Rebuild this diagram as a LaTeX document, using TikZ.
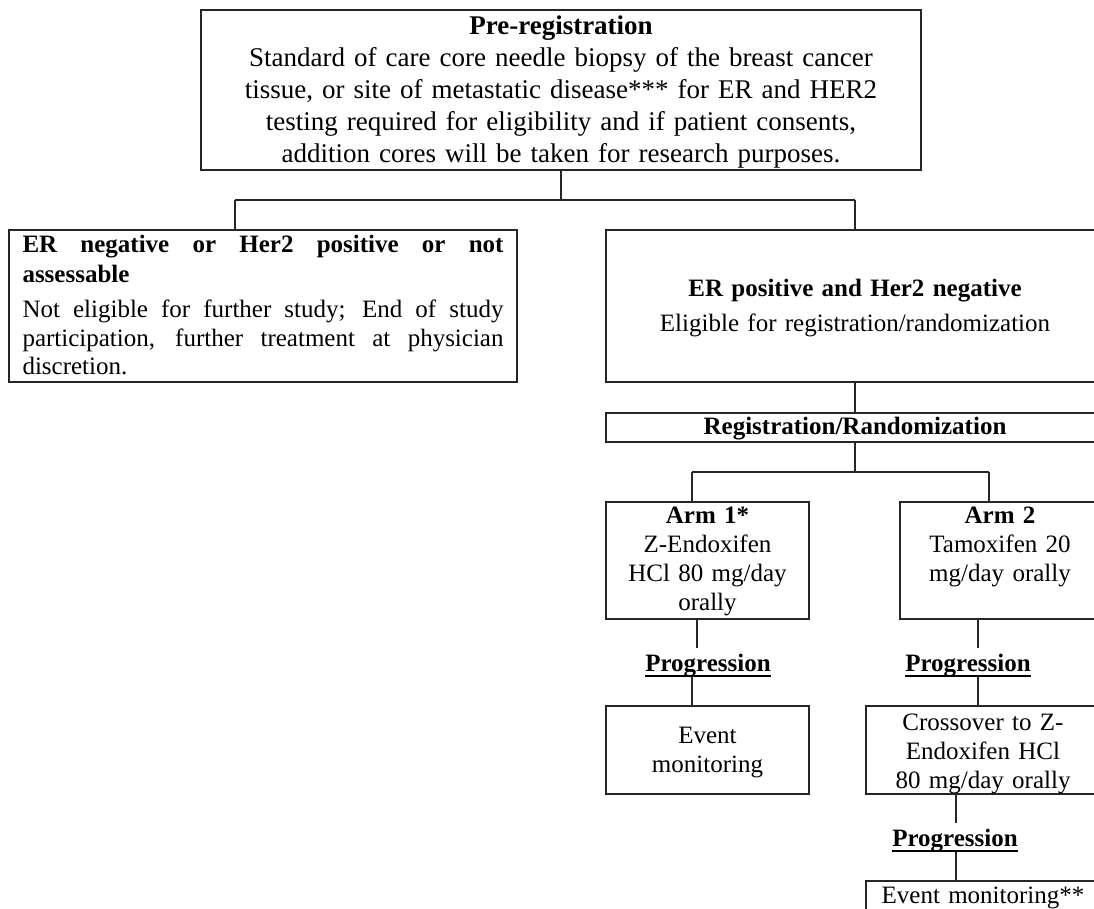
\documentclass[tikz,border=0pt]{standalone}
\usepackage{fontspec}
\setmainfont{Liberation Serif}
\newlength\ulwidth
\newcommand\ulword[1]{\settowidth\ulwidth{#1}\rlap{\rule[-5.5pt]{\ulwidth}{1.5pt}}#1}
\begin{document}
\begin{tikzpicture}[x=1pt,y=-1pt,
  line/.style={draw=black!85, line width=1.3pt},
  box/.style={draw=black!85, line width=1.3pt, inner sep=0pt, align=center,
    font=\fontsize{25}{29}\selectfont},
  sz/.style n args={3}{minimum width=#1, text width=#1, minimum height=#2,
    text height=#3, text depth={#2-#3}},
  prog/.style={inner sep=0pt, text height=23pt, text depth=6pt,
    font=\fontsize{25}{29}\selectfont\bfseries}]
\useasboundingbox (0,0) rectangle (1094,909);
\clip (0,0) rectangle (1094,909);
\fill[white] (0,0) rectangle (1094,909);

% boxes
\node[box, sz={720}{160}{25}, font=\fontsize{27}{32}\selectfont] (top) at (561,90)
  {\textbf{Pre-registration}\\Standard of care core needle biopsy of the breast cancer\\tissue, or site of metastatic disease*** for ER and HER2\\testing required for eligibility and if patient consents,\\addition cores will be taken for research purposes.};

\node[box, minimum width=508pt, minimum height=152pt, inner xsep=13.5pt, text width=481pt,
  text height=23pt, text depth=129pt, align=justify] (lb) at (263,306)
  {\hyphenpenalty=10000{\bfseries ER negative or Her2 positive or not\linebreak assessable}\\[6pt]Not eligible for further study; End of study\linebreak participation, further treatment at physician\linebreak discretion.\par};

\node[box, sz={498}{152}{66}] (rb) at (855,306)
  {\textbf{ER positive and Her2 negative}\\[6.5pt]Eligible for registration/randomization};

\node[box, sz={498}{29}{21}] (reg) at (855,427.5)
  {\textbf{Registration/Randomization}};

\node[box, sz={203}{117}{21}] (arm1) at (707.5,560.5)
  {\textbf{Arm 1*}\\Z-Endoxifen\\HCl 80 mg/day\\orally};
\node[box, sz={200}{117}{21}] (arm2) at (1000,560.5)
  {\textbf{Arm 2}\\Tamoxifen 20\\mg/day orally};

\node[prog, anchor=north] (p1) at (708,648) {\ulword{Progression}};
\node[prog, anchor=north] (p2) at (968,648) {\ulword{Progression}};

\node[box, sz={203}{88}{37}] (ev1) at (707.5,750)
  {Event\\monitoring};
\node[box, sz={234}{88}{24}] (cross) at (983,750)
  {Crossover to Z-\\Endoxifen HCl\\80 mg/day orally};

\node[prog, anchor=north] (p3) at (955,823) {\ulword{Progression}};

\node[box, sz={234}{31}{22}] (ev2) at (983,896.5)
  {Event monitoring**};

% junction coordinates
\coordinate (jt) at (561,200);
\coordinate (jl) at (235,200);
\coordinate (jr) at (855,200);
\coordinate (ja) at (855,472);
\coordinate (ja1) at (692,472);
\coordinate (ja2) at (989,472);
\coordinate (c697) at (697,0);
\coordinate (c692) at (692,0);
\coordinate (c978) at (978,0);
\coordinate (c956) at (956,0);

% connectors
\draw[line] (top.south) -- (jt);
\draw[line] (jl) -- (jr);
\draw[line] (jl) -- (jl |- lb.north);
\draw[line] (jr) -- (rb.north);
\draw[line] (rb.south) -- (reg.north);
\draw[line] (reg.south) -- (ja);
\draw[line] (ja1) -- (ja2);
\draw[line] (ja1) -- (ja1 |- arm1.north);
\draw[line] (ja2) -- (ja2 |- arm2.north);
\draw[line] (c697 |- arm1.south) -- (c697 |- p1.north);
\draw[line] (c692 |- p1.south) -- (c692 |- ev1.north);
\draw[line] (c978 |- arm2.south) -- (c978 |- p2.north);
\draw[line] (c978 |- p2.south) -- (c978 |- cross.north);
\draw[line] (c956 |- cross.south) -- (c956 |- p3.north);
\draw[line] (c956 |- p3.south) -- (c956 |- ev2.north);
\end{tikzpicture}
\end{document}
